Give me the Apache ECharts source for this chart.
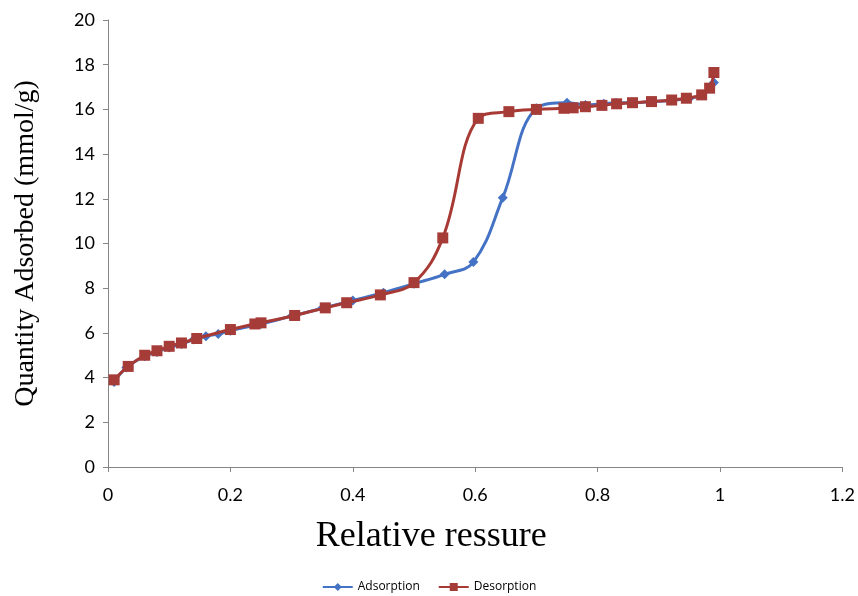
<!DOCTYPE html>
<html>
<head>
<meta charset="utf-8">
<script src="https://cdn.jsdelivr.net/npm/echarts@6/dist/echarts.min.js"></script>
<style>html,body{margin:0;padding:0;background:#fff}#c{width:858px;height:596px}</style>
</head>
<body>
<div id="c"></div>
<script>
const adsorptionX = [0.01,0.03,0.06,0.08,0.10,0.12,0.14,0.16,0.18,0.20,0.25,0.30,0.35,0.40,0.45,0.50,0.55,0.597,0.645,0.70,0.75,0.78,0.81,0.83,0.86,0.89,0.92,0.95,0.97,0.99];
const adsorptionY = [3.8,4.45,4.95,5.15,5.35,5.5,5.7,5.85,5.95,6.1,6.4,6.75,7.1,7.45,7.8,8.2,8.62,9.17,12.05,16.05,16.3,16.2,16.25,16.3,16.3,16.35,16.4,16.5,16.65,17.2];
const desorptionX = [0.01,0.033,0.06,0.08,0.10,0.12,0.145,0.20,0.24,0.25,0.305,0.355,0.39,0.445,0.50,0.547,0.605,0.655,0.70,0.745,0.76,0.78,0.807,0.831,0.857,0.888,0.921,0.945,0.97,0.983,0.99];
const desorptionY = [3.9,4.5,5.0,5.2,5.4,5.55,5.75,6.15,6.4,6.45,6.78,7.12,7.35,7.7,8.25,10.25,15.6,15.9,16.0,16.05,16.07,16.12,16.18,16.25,16.3,16.35,16.42,16.5,16.65,16.95,17.65];
const seriesNames = ['Adsorption','Desorption'];
const xTitle = 'Relative ressure';
const yTitle = 'Quantity Adsorbed (mmol/g)';

const zip = (xs, ys) => xs.map((x, i) => [x, ys[i]]);
const chart = echarts.init(document.getElementById('c'));
const axisCommon = {
  axisLine: { show: true, lineStyle: { color: '#868686', width: 1 } },
  axisTick: { show: true, inside: false, length: 5, lineStyle: { color: '#868686' } },
  splitLine: { show: false },
  axisLabel: { color: '#000', fontFamily: 'Lato, sans-serif', fontSize: 18 }
};
chart.setOption({
  animation: false,
  backgroundColor: '#fff',
  grid: { left: 108, right: 15, top: 20, bottom: 129, containLabel: false },
  xAxis: Object.assign({}, axisCommon, {
    type: 'value', min: 0, max: 1.2, interval: 0.2,
    axisLabel: Object.assign({}, axisCommon.axisLabel, { margin: 19, formatter: v => String(+v.toFixed(1)) }),
    name: xTitle, nameLocation: 'middle', nameGap: 52,
    nameTextStyle: { fontFamily: 'Liberation Serif, serif', fontSize: 36, color: '#000', padding: [0, 88, 0, 0] }
  }),
  yAxis: Object.assign({}, axisCommon, {
    type: 'value', min: 0, max: 20, interval: 2,
    axisLabel: Object.assign({}, axisCommon.axisLabel, { margin: 13 }),
    name: yTitle, nameLocation: 'middle', nameGap: 68, nameRotate: 90,
    nameTextStyle: { fontFamily: 'Liberation Serif, serif', fontSize: 28, color: '#000' }
  }),
  legend: {
    bottom: -2, left: 'center', itemWidth: 30, itemHeight: 10, itemGap: 18,
    textStyle: { fontFamily: 'Open Sans, sans-serif', fontSize: 12, color: '#000' },
    data: seriesNames
  },
  series: [
    {
      name: seriesNames[0], type: 'line', data: zip(adsorptionX, adsorptionY),
      smooth: 0.4, symbol: 'diamond', symbolSize: 10,
      lineStyle: { color: '#4472C4', width: 3 },
      itemStyle: { color: '#4472C4' }, z: 2
    },
    {
      name: seriesNames[1], type: 'line', data: zip(desorptionX, desorptionY),
      smooth: 0.4, symbol: 'rect', symbolSize: 11,
      lineStyle: { color: '#A83A36', width: 3 },
      itemStyle: { color: '#A63C38' }, z: 3
    }
  ]
});
</script>
</body>
</html>
